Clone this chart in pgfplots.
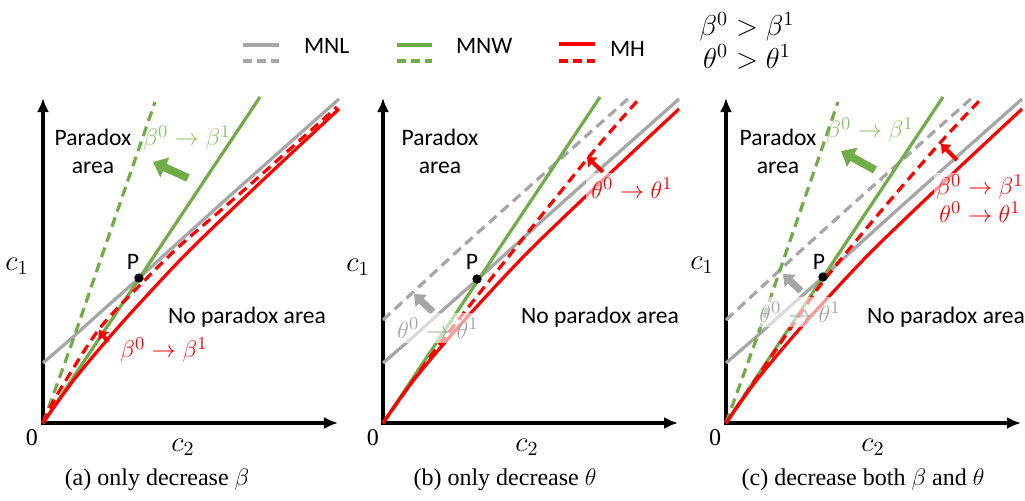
\documentclass[border=0pt]{standalone}
\usepackage{pgfplots}
\pgfplotsset{compat=1.18}
\usepackage{pgfplotstable}
\usepackage{fontspec}
\setmainfont{Liberation Serif}
\newfontfamily\calibri{Carlito}
\usetikzlibrary{arrows.meta}

\definecolor{mgray}{HTML}{A6A6A6}
\definecolor{mgreen}{HTML}{70AD47}
\definecolor{lgreen}{HTML}{8CC068}
\definecolor{mred}{HTML}{FF0000}

% shared curves (panel-local coordinates, 1 unit = 1 px)
\pgfplotstableread{
u v
0 0
30 42
64 83
97 120
147 173
220 243
296 314
}\redsolid
\pgfplotstableread{
u v
0 60
30 86
60 113
96 145
180 221
296 324
}\graysolid
\pgfplotstableread{
u v
0 0
217 326
}\greensolid
\pgfplotstableread{
u v
0 0
30 83
64 182
112 321
}\greendashed
\pgfplotstableread{
u v
0 103
40 140
80 177
165 253
247 326
}\graydashed
\pgfplotstableread{
u v
0 0
8 17
20 38
57 95
104 145
140 180
200 232
294 316
}\reddasheda
\pgfplotstableread{
u v
0 0
47 66
99 133
205 265
257 325
}\reddashedb
\pgfplotstableread{
u v
0 0
30 44
60 88
96 140
150 206
214 280
257 326
}\reddashedc

\pgfplotsset{
  panel/.style={x=0.5pt,y=0.5pt,xmin=0,xmax=295,ymin=0,ymax=325,
    axis lines*=left,
    axis line style={line width=1.7pt,black,line cap=rect,-{Latex[length=7pt,width=6pt]}},
    xtick=\empty,ytick=\empty,clip=false,anchor=origin},
}
\tikzset{
  solidln/.style={line width=1.6pt},
  dashln/.style={line width=1.6pt,dash pattern=on 5pt off 3pt},
  sanslab/.style={font=\calibri\fontsize{11.8}{14}\selectfont},
  mathlab/.style={font=\fontsize{12.6}{12.5}\selectfont},
  captlab/.style={font=\fontsize{12}{14}\selectfont},
  clab/.style={font=\fontsize{14.5}{14}\selectfont},
  fadebox/.style={fill=white,fill opacity=0.6,text opacity=1,inner sep=2.5pt},
}

\begin{document}
\begin{tikzpicture}
% ---------- legend and header ----------
\begin{axis}[x=0.5pt,y=0.5pt,xmin=0,xmax=1025,ymin=0,ymax=500,hide axis,clip=false,anchor=origin,at={(0,0)}]
\addplot[mgray,line width=2pt] coordinates {(243,455)(279,455)};
\addplot[mgray,line width=2pt,dash pattern=on 4.5pt off 2.5pt] coordinates {(243,439)(279,439)};
\addplot[mgreen,line width=2pt] coordinates {(397,455)(432,455)};
\addplot[mgreen,line width=2pt,dash pattern=on 4.5pt off 2.5pt] coordinates {(397,439)(432,439)};
\addplot[mred,line width=2pt] coordinates {(559,456)(595,456)};
\addplot[mred,line width=2pt,dash pattern=on 4.5pt off 2.5pt] coordinates {(559,439)(595,439)};
\node[sanslab,anchor=west] at (297,454) {MNL};
\node[sanslab,anchor=west] at (449,454) {MNW};
\node[sanslab,anchor=west] at (603,451) {MH};
\node[font=\fontsize{14}{14}\selectfont] at (747,473) {$\beta^0>\beta^1$};
\node[font=\fontsize{14}{14}\selectfont] at (747,443) {$\theta^0>\theta^1$};
\end{axis}

% ---------- panel (a) ----------
\begin{axis}[panel,at={(21.5pt,38.5pt)}]
\addplot[mgray,solidln,smooth] table[x=u,y=v] {\graysolid};
\addplot[mgreen,dashln,smooth] table[x=u,y=v] {\greendashed};
\addplot[mgreen,solidln] table[x=u,y=v] {\greensolid};
\addplot[mred,dashln,smooth] table[x=u,y=v] {\reddasheda};
\addplot[mred,solidln,smooth] table[x=u,y=v] {\redsolid};
\addplot[mgreen,line width=4pt,-{Triangle[length=6.5pt,width=10.5pt]}] coordinates {(145,245)(110,261)};
\addplot[mred,line width=2pt,-{Triangle[length=4pt,width=6.5pt]}] coordinates {(65,81)(56,93)};
\addplot[only marks,mark=*,mark size=2.1pt,black] coordinates {(96,145)};
\node[sanslab,align=center] at (50,272) {Paradox\\area};
\node[sanslab] at (204,106) {No paradox area};
\node[mathlab,text=lgreen] at (144,285) {$\beta^0\rightarrow\beta^1$};
\node[mathlab,text=mred] at (121,73) {$\beta^0\rightarrow\beta^1$};
\node[sanslab] at (90,161) {P};
\node[clab] at (-26,157) {$c_1$};
\node[clab] at (140,-24) {$c_2$};
\node[captlab] at (-11,-15) {0};
\node[captlab] at (114,-57) {(a) only decrease $\beta$};
\end{axis}

% ---------- panel (b) ----------
\begin{axis}[panel,at={(191.5pt,38.5pt)}]
\addplot[mgray,dashln,smooth] table[x=u,y=v] {\graydashed};
\addplot[mgray,solidln,smooth] table[x=u,y=v] {\graysolid};
\addplot[mgreen,solidln] table[x=u,y=v] {\greensolid};
\addplot[mred,dashln,smooth] table[x=u,y=v] {\reddashedb};
\addplot[mred,solidln,smooth] table[x=u,y=v] {\redsolid};
\addplot[mgray,line width=3.5pt,-{Triangle[length=5pt,width=8pt]}] coordinates {(50,111)(31,129)};
\addplot[mred,line width=2pt,-{Triangle[length=4pt,width=6.5pt]}] coordinates {(220,251)(204,266)};
\addplot[only marks,mark=*,mark size=2.1pt,black] coordinates {(94,144)};
\node[sanslab,align=center] at (57,272) {Paradox\\area};
\node[sanslab] at (217,106) {No paradox area};
\node[mathlab,text=mgray,fadebox] at (55,95) {$\theta^0\rightarrow\theta^1$};
\node[mathlab,text=mred,fadebox] at (249,235) {$\theta^0\rightarrow\theta^1$};
\node[sanslab] at (89,161) {P};
\node[clab] at (-25,156) {$c_1$};
\node[clab] at (144,-24) {$c_2$};
\node[captlab] at (-10,-15) {0};
\node[captlab] at (122,-57) {(b) only decrease $\theta$};
\end{axis}

% ---------- panel (c) ----------
\begin{axis}[panel,at={(363pt,38.5pt)}]
\addplot[mgray,dashln,smooth] table[x=u,y=v] {\graydashed};
\addplot[mgray,solidln,smooth] table[x=u,y=v] {\graysolid};
\addplot[mgreen,dashln,smooth] table[x=u,y=v] {\greendashed};
\addplot[mgreen,solidln] table[x=u,y=v] {\greensolid};
\addplot[mred,dashln,smooth] table[x=u,y=v] {\reddashedc};
\addplot[mred,solidln,smooth] table[x=u,y=v] {\redsolid};
\addplot[mgreen,line width=4pt,-{Triangle[length=6.5pt,width=10.5pt]}] coordinates {(149,253)(115,272)};
\addplot[mred,line width=2pt,-{Triangle[length=4pt,width=6.5pt]}] coordinates {(231,263)(215,279)};
\addplot[mgray,line width=3.5pt,-{Triangle[length=5pt,width=8pt]}] coordinates {(75,132)(57,149)};
\addplot[only marks,mark=*,mark size=2.1pt,black] coordinates {(97,146)};
\node[sanslab,align=center] at (52,272) {Paradox\\area};
\node[sanslab,anchor=west] at (134,106) {No paradox area};
\node[mathlab,text=lgreen] at (144,293) {$\beta^0\rightarrow\beta^1$};
\node[mathlab,text=mred,fill=white,fill opacity=0.6,text opacity=1,inner sep=1pt] at (254,236) {$\beta^0\rightarrow\beta^1$};
\node[mathlab,text=mred,fill=white,fill opacity=0.6,text opacity=1,inner sep=1pt] at (254,211) {$\theta^0\rightarrow\theta^1$};
\node[mathlab,text=mgray,fadebox] at (74,111) {$\theta^0\rightarrow\theta^1$};
\node[sanslab] at (93,161) {P};
\node[clab] at (-24,158) {$c_1$};
\node[clab] at (147,-24) {$c_2$};
\node[captlab] at (-11,-15) {0};
\node[captlab] at (137,-57) {(c) decrease both $\beta$ and $\theta$};
\end{axis}

\pgfresetboundingbox
\path[use as bounding box] (0,0) rectangle (512.5pt,250pt);
\end{tikzpicture}
\end{document}
